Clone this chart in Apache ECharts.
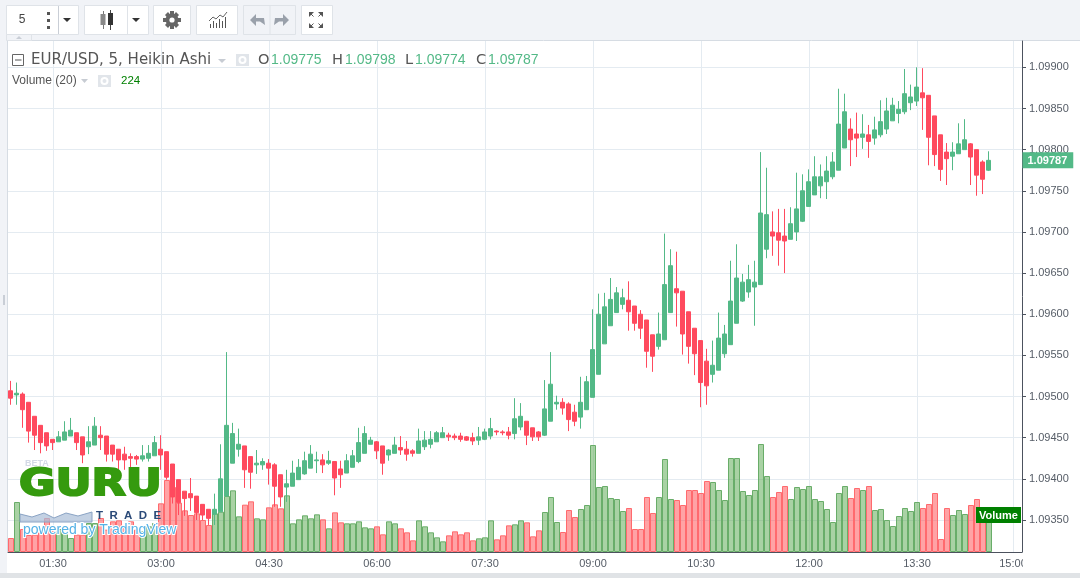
<!DOCTYPE html>
<html>
<head>
<meta charset="utf-8">
<title>EUR/USD, 5, Heikin Ashi</title>
<style>
  html, body { margin: 0; padding: 0; background: #f1f3f7; }
  #chart { width: 1080px; height: 578px; }
</style>
<script src="https://cdn.jsdelivr.net/npm/echarts@6/dist/echarts.min.js"></script>
</head>
<body>
<div id="chart"></div>
<script>
// heikin ashi candles, 5 min bars from 00:55 to 14:30
const opens = [
  1.09507,1.09502,1.09503,1.09493,1.09476,1.09465,1.09456,1.09448,1.09445,1.09447,
  1.09452,1.09456,1.09451,1.09439,1.09441,1.09453,1.09452,1.09441,1.09436,1.09430,
  1.09427,1.09427,1.09424,1.09425,1.09428,1.09436,1.09433,1.09418,1.09399,1.09385,
  1.09382,1.09379,1.09369,1.09363,1.09357,1.09360,1.09379,1.09419,1.09436,1.09440,
  1.09427,1.09417,1.09417,1.09419,1.09417,1.09405,1.09390,1.09391,1.09399,1.09406,
  1.09413,1.09422,1.09423,1.09419,1.09421,1.09412,1.09407,1.09414,1.09421,1.09431,
  1.09442,1.09445,1.09440,1.09429,1.09431,1.09438,1.09436,1.09434,1.09431,1.09439,
  1.09442,1.09445,1.09450,1.09453,1.09452,1.09452,1.09451,1.09450,1.09447,1.09448,
  1.09452,1.09458,1.09457,1.09457,1.09455,1.09463,1.09470,1.09462,1.09457,1.09453,
  1.09470,1.09491,1.09493,1.09491,1.09481,1.09475,1.09484,1.09499,1.09527,1.09564,
  1.09586,1.09602,1.09612,1.09617,1.09610,1.09600,1.09593,1.09575,1.09561,1.09569,
  1.09602,1.09631,1.09628,1.09603,1.09583,1.09568,1.09543,1.09527,1.09532,1.09552,
  1.09563,1.09589,1.09616,1.09627,1.09633,1.09636,1.09679,1.09700,1.09699,1.09695,
  1.09691,1.09700,1.09713,1.09731,1.09745,1.09756,1.09761,1.09767,1.09775,1.09802,
  1.09825,1.09819,1.09815,1.09818,1.09814,1.09818,1.09825,1.09835,1.09844,1.09846,
  1.09857,1.09859,1.09869,1.09866,1.09841,1.09818,1.09797,1.09792,1.09795,1.09800,
  1.09807,1.09800,1.09785,1.09775
]
const closes = [
  1.09498,1.09504,1.09484,1.09458,1.09453,1.09444,1.09440,1.09444,1.09451,1.09457,
  1.09459,1.09444,1.09429,1.09445,1.09464,1.09450,1.09430,1.09430,1.09423,1.09423,
  1.09425,1.09424,1.09428,1.09431,1.09444,1.09429,1.09402,1.09378,1.09371,1.09376,
  1.09377,1.09359,1.09356,1.09352,1.09363,1.09400,1.09465,1.09455,1.09442,1.09411,
  1.09408,1.09419,1.09421,1.09413,1.09391,1.09378,1.09394,1.09407,1.09414,1.09422,
  1.09430,1.09423,1.09417,1.09422,1.09401,1.09405,1.09422,1.09428,1.09444,1.09455,
  1.09447,1.09434,1.09419,1.09435,1.09441,1.09435,1.09430,1.09431,1.09446,1.09447,
  1.09448,1.09456,1.09456,1.09451,1.09450,1.09448,1.09447,1.09446,1.09451,1.09457,
  1.09461,1.09457,1.09456,1.09453,1.09473,1.09476,1.09453,1.09451,1.09451,1.09485,
  1.09515,1.09493,1.09486,1.09472,1.09470,1.09493,1.09518,1.09557,1.09600,1.09609,
  1.09618,1.09626,1.09620,1.09603,1.09589,1.09583,1.09555,1.09549,1.09576,1.09636,
  1.09659,1.09626,1.09576,1.09561,1.09552,1.09517,1.09513,1.09538,1.09571,1.09576,
  1.09616,1.09644,1.09639,1.09642,1.09639,1.09723,1.09721,1.09695,1.09690,1.09689,
  1.09710,1.09728,1.09750,1.09761,1.09767,1.09767,1.09774,1.09785,1.09831,1.09846,
  1.09812,1.09814,1.09819,1.09810,1.09824,1.09834,1.09847,1.09854,1.09849,1.09868,
  1.09864,1.09876,1.09863,1.09815,1.09794,1.09776,1.09789,1.09797,1.09807,1.09812,
  1.09791,1.09769,1.09764,1.09787
]
const highs = [
  1.09519,1.09517,1.09505,1.09493,1.09476,1.09465,1.09456,1.09448,1.09458,1.09470,
  1.09474,1.09456,1.09451,1.09464,1.09475,1.09464,1.09452,1.09441,1.09436,1.09439,
  1.09431,1.09429,1.09441,1.09441,1.09452,1.09453,1.09433,1.09418,1.09399,1.09385,
  1.09401,1.09379,1.09369,1.09363,1.09382,1.09442,1.09554,1.09468,1.09461,1.09440,
  1.09427,1.09435,1.09425,1.09424,1.09419,1.09405,1.09411,1.09422,1.09424,1.09433,
  1.09441,1.09433,1.09430,1.09434,1.09421,1.09422,1.09430,1.09435,1.09462,1.09464,
  1.09451,1.09446,1.09440,1.09436,1.09451,1.09452,1.09446,1.09436,1.09461,1.09458,
  1.09458,1.09458,1.09463,1.09456,1.09455,1.09456,1.09452,1.09456,1.09463,1.09461,
  1.09474,1.09459,1.09459,1.09463,1.09498,1.09492,1.09470,1.09462,1.09458,1.09520,
  1.09554,1.09501,1.09498,1.09493,1.09490,1.09524,1.09525,1.09606,1.09625,1.09626,
  1.09644,1.09633,1.09631,1.09640,1.09610,1.09605,1.09593,1.09575,1.09602,1.09698,
  1.09679,1.09676,1.09628,1.09603,1.09583,1.09568,1.09558,1.09568,1.09602,1.09587,
  1.09665,1.09685,1.09649,1.09660,1.09665,1.09797,1.09778,1.09725,1.09728,1.09728,
  1.09730,1.09772,1.09770,1.09776,1.09792,1.09782,1.09792,1.09797,1.09874,1.09868,
  1.09838,1.09845,1.09843,1.09830,1.09840,1.09860,1.09863,1.09863,1.09859,1.09898,
  1.09879,1.09900,1.09899,1.09866,1.09841,1.09818,1.09808,1.09809,1.09832,1.09837,
  1.09808,1.09800,1.09787,1.09798
]
const lows = [
  1.09490,1.09490,1.09462,1.09444,1.09435,1.09431,1.09434,1.09435,1.09445,1.09447,
  1.09452,1.09435,1.09419,1.09430,1.09441,1.09435,1.09421,1.09421,1.09411,1.09411,
  1.09414,1.09417,1.09421,1.09421,1.09428,1.09411,1.09399,1.09370,1.09356,1.09355,
  1.09361,1.09350,1.09350,1.09344,1.09344,1.09360,1.09379,1.09419,1.09427,1.09389,
  1.09388,1.09406,1.09411,1.09393,1.09366,1.09366,1.09372,1.09391,1.09399,1.09405,
  1.09413,1.09407,1.09407,1.09417,1.09380,1.09389,1.09407,1.09414,1.09419,1.09431,
  1.09442,1.09424,1.09405,1.09422,1.09431,1.09429,1.09422,1.09427,1.09431,1.09435,
  1.09437,1.09445,1.09450,1.09446,1.09447,1.09445,1.09446,1.09441,1.09441,1.09447,
  1.09448,1.09453,1.09453,1.09448,1.09448,1.09459,1.09441,1.09446,1.09446,1.09452,
  1.09470,1.09484,1.09478,1.09458,1.09464,1.09461,1.09484,1.09499,1.09527,1.09564,
  1.09586,1.09602,1.09606,1.09580,1.09580,1.09570,1.09535,1.09530,1.09557,1.09569,
  1.09602,1.09585,1.09551,1.09540,1.09526,1.09487,1.09490,1.09517,1.09532,1.09547,
  1.09563,1.09589,1.09615,1.09620,1.09586,1.09636,1.09668,1.09671,1.09659,1.09650,
  1.09691,1.09689,1.09712,1.09731,1.09745,1.09741,1.09740,1.09764,1.09775,1.09802,
  1.09780,1.09791,1.09801,1.09790,1.09806,1.09815,1.09819,1.09835,1.09832,1.09843,
  1.09848,1.09853,1.09824,1.09781,1.09780,1.09762,1.09757,1.09775,1.09795,1.09800,
  1.09757,1.09744,1.09746,1.09774
]
const volumes = [
  84,300,138,102,104,118,204,124,138,114,
  84,104,104,174,174,204,134,184,190,154,
  184,134,124,154,174,292,432,390,296,250,
  222,232,192,162,232,242,336,370,214,284,
  304,202,196,268,286,262,340,172,196,220,
  202,226,196,142,238,178,172,172,184,148,
  142,154,106,184,172,142,118,70,190,154,
  118,88,64,100,124,106,118,70,82,88,
  190,76,100,160,166,190,178,94,130,240,
  330,180,120,252,210,258,282,642,390,396,
  324,318,246,264,138,138,330,234,330,558,
  318,312,282,372,372,354,426,420,372,312,
  564,564,366,342,372,648,456,330,360,396,
  318,390,378,396,318,306,258,180,354,396,
  324,384,372,396,252,258,192,156,216,264,
  246,300,264,288,354,78,264,222,252,228,
  282,318,250,224
]
const futureSlots = ['14:35', '14:40', '14:45', '15:00', '15:05']
const timeLabels = ['01:30', '03:00', '04:30', '06:00', '07:30', '09:00', '10:30', '12:00', '13:30', '15:00']
const priceLabels = [1.0935, 1.094, 1.0945, 1.095, 1.0955, 1.096, 1.0965, 1.097, 1.0975, 1.098, 1.0985, 1.099]
const lastClose = 1.09787

const UP = '#53b987'
const DOWN = '#ff4a5e'
const AXIS_TEXT = '#555c66'
const GRID = '#e4ebf1'
const PAGE = '#f1f3f7'
const SANS = '"Liberation Sans", Arial, sans-serif'
const PRICE_MIN = 1.093111
const PRICE_MAX = 1.09932

const pad = n => String(n).padStart(2, '0')
const slots = opens.map((_, i) => {
  const m = 55 + i * 5
  return pad(Math.floor(m / 60)) + ':' + pad(m % 60)
}).concat(futureSlots)

const showTime = (_, name) => timeLabels.indexOf(name) >= 0

const candles = opens.map((o, i) => [o, closes[i], lows[i], highs[i]])
const volumeBars = volumes.map((v, i) => {
  const up = closes[i] > opens[i]
  return {
    value: v,
    itemStyle: {
      color: up ? 'rgba(83,165,73,0.5)' : 'rgba(255,71,76,0.5)',
      borderColor: up ? '#69ad69' : '#ff6a6e'
    }
  }
})

// toolbar, legend and watermark pieces
const rect = (x, y, w, h, fill, stroke, z) => ({
  type: 'rect', silent: true, z: z === undefined ? 10 : z,
  shape: { x: x, y: y, width: w, height: h },
  style: { fill: fill, stroke: stroke || null, lineWidth: 1 }
})
const poly = (points, fill, z) => ({
  type: 'polygon', silent: true, z: z === undefined ? 10 : z,
  shape: { points: points }, style: { fill: fill }
})
const line = (x1, y1, x2, y2, stroke, z) => ({
  type: 'line', silent: true, z: z === undefined ? 10 : z,
  shape: { x1: x1, y1: y1, x2: x2, y2: y2 }, style: { stroke: stroke, lineWidth: 1 }
})
const label = (x, y, text, size, fill, font, extra) => ({
  type: 'text', silent: true, z: 12, x: x, y: y,
  style: Object.assign({
    text: text, fill: fill, font: size + 'px ' + (font || SANS), verticalAlign: 'middle'
  }, extra || {})
})
const caret = (x, y, fill) => poly([[x - 4, y - 2], [x + 4, y - 2], [x, y + 2]], fill)
const eye = (x, y) => [
  rect(x, y, 13, 12, '#e1e5ea'),
  { type: 'ring', silent: true, z: 11, shape: { cx: x + 6.5, cy: y + 6, r: 4, r0: 2 }, style: { fill: '#fff' } }
]

const toolbar = [
  rect(6.5, 5.5, 72, 29, '#fff', '#dfe3e8'),
  line(58.5, 6, 58.5, 34, '#c9ced6'),
  label(22, 20, '5', 12, '#444', SANS, { align: 'center' }),
  rect(47, 12, 3, 3, '#555'), rect(47, 19, 3, 3, '#555'), rect(47, 26, 3, 3, '#555'),
  caret(67, 20, '#333'),

  rect(84.5, 5.5, 64, 29, '#fff', '#dfe3e8'),
  line(127.5, 6, 127.5, 34, '#dfe3e8'),
  line(103.5, 11, 103.5, 29, '#777'), rect(100.5, 14, 5, 11, '#888'),
  line(110.5, 10, 110.5, 30, '#444'), rect(108, 13, 5, 12, '#333'),
  caret(136, 20, '#333'),

  rect(153.5, 5.5, 37, 29, '#fff', '#dfe3e8'),
  { type: 'ring', silent: true, z: 11, shape: { cx: 172, cy: 20, r: 6.5, r0: 3 }, style: { fill: '#666' } },
  rect(170, 11, 4, 18, '#666', null, 11), rect(163, 18, 18, 4, '#666', null, 11),
  poly([[165, 15], [168, 12], [179, 25], [176, 28]], '#666', 11),
  poly([[176, 12], [179, 15], [168, 28], [165, 25]], '#666', 11),
  { type: 'circle', silent: true, z: 12, shape: { cx: 172, cy: 20, r: 2.6 }, style: { fill: '#fff' } },

  rect(196.5, 5.5, 41, 29, '#fff', '#dfe3e8'),
  rect(210, 24, 1, 4, '#555'), rect(213, 21, 1, 7, '#555'), rect(216, 23, 1, 5, '#555'),
  rect(219, 19, 1, 9, '#555'), rect(222, 21, 1, 7, '#555'), rect(225, 17, 1, 11, '#555'),
  {
    type: 'polyline', silent: true, z: 11,
    shape: { points: [[209, 21], [213, 17], [216, 19], [220, 15], [223, 17], [227, 12]] },
    style: { stroke: '#666', fill: null, lineWidth: 1 }
  },

  rect(243.5, 5.5, 52, 29, PAGE, '#dfe3e8'),
  line(270, 6, 270, 34, '#dfe3e8'),
  poly([[250, 20], [256, 14], [256, 18], [264, 18], [265, 25], [260, 21.5], [256, 21.5], [256, 26]], '#9aa1ab'),
  poly([[289, 20], [283, 14], [283, 18], [275, 18], [274, 25], [279, 21.5], [283, 21.5], [283, 26]], '#9aa1ab'),

  rect(301.5, 5.5, 31, 29, '#fff', '#dfe3e8'),
  poly([[309, 12], [314, 12], [309, 17]], '#555'), poly([[323, 12], [318, 12], [323, 17]], '#555'),
  poly([[309, 28], [314, 28], [309, 23]], '#555'), poly([[323, 28], [318, 28], [323, 23]], '#555'),
  line(310, 13, 313.5, 16.5, '#555'), line(322, 13, 318.5, 16.5, '#555'),
  line(310, 27, 313.5, 23.5, '#555'), line(322, 27, 318.5, 23.5, '#555'),

  rect(6.5, 34.5, 25, 6, PAGE, '#dfe3e8'),
  poly([[16, 39], [22, 39], [19, 36]], '#c9ced6')
]

const TITLE_FONT = '"DejaVu Sans", sans-serif'
const legend = [
  rect(12.5, 54.5, 11, 11, '#fff', '#666'),
  line(15, 60, 21.5, 60, '#555'),
  label(31, 60.5, 'EUR/USD, 5, Heikin Ashi', 15, '#555', TITLE_FONT),
  poly([[218, 59], [226, 59], [222, 63]], '#c7ccd3'),
  ...eye(236, 54),
  label(258, 60.5, 'O', 14.6, '#555', TITLE_FONT),
  label(271, 60.5, '1.09775', 14, UP, SANS),
  label(332, 60.5, 'H', 14.6, '#555', TITLE_FONT),
  label(345, 60.5, '1.09798', 14, UP, SANS),
  label(405, 60.5, 'L', 14.6, '#555', TITLE_FONT),
  label(415, 60.5, '1.09774', 14, UP, SANS),
  label(476, 60.5, 'C', 14.6, '#555', TITLE_FONT),
  label(488, 60.5, '1.09787', 14, UP, SANS),
  label(12, 81, 'Volume (20)', 12, '#555', SANS),
  poly([[81, 79], [88, 79], [84.5, 83]], '#c7ccd3'),
  ...eye(98, 75),
  label(121, 81, '224', 11.5, '#008000', SANS)
]

// page pieces behind the plot
const frame = [
  rect(7, 40, 1073, 533, '#fff', null, -5),
  line(7.5, 40, 7.5, 552, '#d6dce3', -4),
  line(7, 40.5, 1080, 40.5, '#d6dce3', -4),
  rect(0, 573, 1080, 5, '#e0e3e6', null, -4),
  rect(3, 295, 2, 10, '#c9ced6', null, -4)
]

const watermark = [
  label(25, 464, 'BETA', 9, '#d3d9e6', SANS, { font: 'bold 9px ' + SANS }),
  Object.assign(label(19, 485.5, 'GURU', 38, '#359a0e', SANS, {
    font: 'bold 38px "DejaVu Sans", sans-serif', stroke: '#359a0e', lineWidth: 2
  }), { z: 50, scaleX: 1.17 }),
  {
    type: 'polygon', silent: true, z: 49,
    shape: { points: [[20, 522], [20, 514], [32, 517], [44, 513], [54, 518], [66, 513], [78, 516], [92, 512], [92, 522]] },
    style: { fill: 'rgba(170,190,215,0.7)', stroke: '#8aa3c4', lineWidth: 1 }
  },
  Object.assign(label(96, 516, 'T  R  A  D  E', 11, '#2b4a78', SANS, { font: 'bold 11.5px ' + SANS }), { z: 50 }),
  Object.assign(label(23, 530, 'powered by TradingView', 14, '#55b2e6', SANS, { stroke: '#ffffff', lineWidth: 2 }), { z: 51 })
]

// right price pane bottom covers the end of the 15:00 label, volume tag sits on the bars
const overlays = [
  rect(1023, 553, 57, 20, '#fff', null, 40),
  rect(976, 507, 45, 16, '#008000', null, 60),
  Object.assign(label(998.5, 515.5, 'Volume', 11, '#fff', SANS, { font: 'bold 11px ' + SANS, align: 'center' }), { z: 61 })
]

const chart = echarts.init(document.getElementById('chart'))
chart.setOption({
  animation: false,
  backgroundColor: PAGE,
  graphic: { elements: [...frame, ...toolbar, ...legend, ...watermark, ...overlays] },
  // candles sit half a pixel left of the volume bars and time grid, as in the reference
  grid: [
    { left: 8, right: 58, top: 41, bottom: 26 },
    { left: 7.5, right: 58.5, top: 41, bottom: 26 }
  ],
  xAxis: [
    {
      type: 'category',
      data: slots,
      boundaryGap: true,
      axisLine: { lineStyle: { color: '#4c525e' } },
      axisTick: { interval: showTime, alignWithLabel: true, length: 4, lineStyle: { color: '#4c525e' } },
      axisLabel: { interval: showTime, color: AXIS_TEXT, fontFamily: SANS, fontSize: 11, margin: 6, hideOverlap: false },
      splitLine: { show: true, interval: showTime, alignWithLabel: true, lineStyle: { color: GRID } }
    },
    { type: 'category', gridIndex: 1, data: slots, show: false }
  ],
  yAxis: [
    {
      type: 'value',
      position: 'right',
      min: PRICE_MIN,
      max: PRICE_MAX,
      axisLine: { show: true, onZero: false, lineStyle: { color: '#4c525e' } },
      axisTick: { show: true, length: 4, customValues: priceLabels, lineStyle: { color: '#4c525e' } },
      axisLabel: {
        customValues: priceLabels,
        color: AXIS_TEXT,
        fontFamily: SANS,
        fontSize: 11,
        margin: 7,
        formatter: v => v.toFixed(5)
      },
      splitLine: { show: true, lineStyle: { color: GRID } }
    },
    { type: 'value', min: 0, max: 3066, show: false, splitLine: { show: false } },
    {
      // price scale of the candles, its one label is the last close tag
      type: 'value',
      gridIndex: 1,
      position: 'right',
      min: PRICE_MIN,
      max: PRICE_MAX,
      z: 5,
      axisLine: { show: false },
      axisTick: { show: false, customValues: [lastClose] },
      splitLine: { show: false },
      axisLabel: {
        customValues: [lastClose],
        margin: 1,
        formatter: v => '{tag|' + v.toFixed(5) + '}',
        rich: {
          tag: {
            color: '#fff',
            fontFamily: SANS,
            fontWeight: 'bold',
            fontSize: 11,
            backgroundColor: UP,
            padding: [3, 6, 2, 5]
          }
        }
      }
    }
  ],
  series: [
    {
      name: 'Volume',
      type: 'bar',
      yAxisIndex: 1,
      z: 1,
      barWidth: 6,
      data: volumeBars,
      itemStyle: { borderWidth: 1 }
    },
    {
      name: 'EUR/USD',
      type: 'candlestick',
      xAxisIndex: 1,
      yAxisIndex: 2,
      z: 2,
      barWidth: 4,
      data: candles,
      itemStyle: { color: UP, color0: DOWN, borderColor: UP, borderColor0: DOWN, borderWidth: 1 }
    }
  ]
})
</script>
</body>
</html>
